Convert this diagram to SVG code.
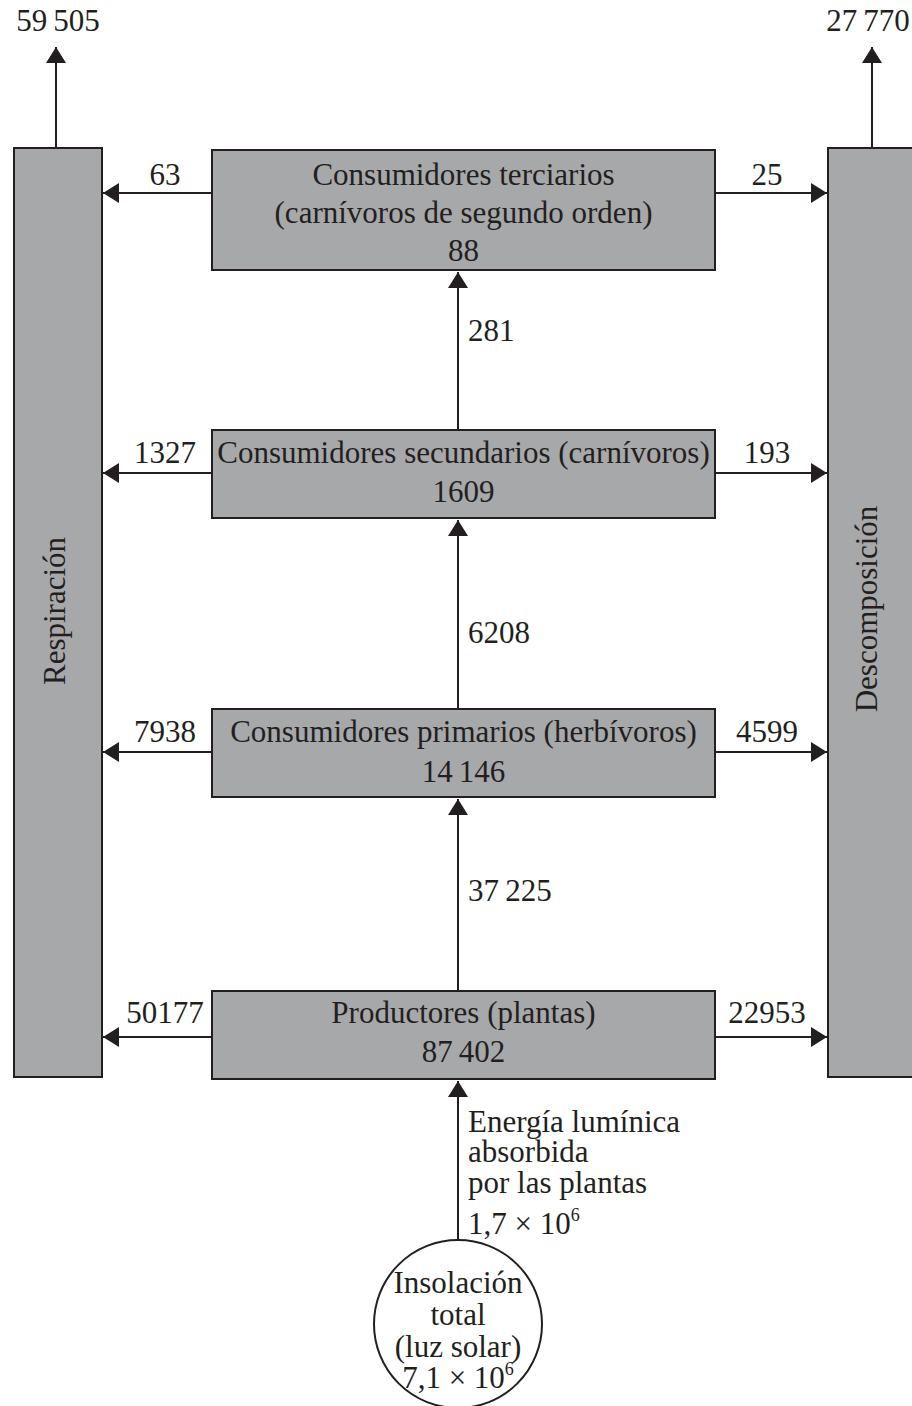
<svg xmlns="http://www.w3.org/2000/svg" width="912" height="1406" viewBox="0 0 912 1406">
<defs>
<style>
.box{fill:#a7a8aa;stroke:#231f20;stroke-width:2}
.ln{stroke:#231f20;stroke-width:2;fill:none}
text{font-family:"Liberation Serif","Times New Roman",serif;font-size:31px;fill:#231f20}
.c{text-anchor:middle}
</style>
<marker id="ah" markerWidth="16" markerHeight="20" refX="16" refY="10" orient="auto" markerUnits="userSpaceOnUse">
<path d="M0,0 L16,10 L0,20 z" fill="#231f20"/>
</marker>
</defs>
<rect width="912" height="1406" fill="#ffffff"/>
<g id="connectors">
<line class="ln" x1="56" y1="148" x2="56" y2="47" marker-end="url(#ah)"/>
<line class="ln" x1="872" y1="148" x2="872" y2="47" marker-end="url(#ah)"/>
<line class="ln" x1="212" y1="193" x2="103" y2="193" marker-end="url(#ah)"/>
<line class="ln" x1="212" y1="473" x2="103" y2="473" marker-end="url(#ah)"/>
<line class="ln" x1="212" y1="752" x2="103" y2="752" marker-end="url(#ah)"/>
<line class="ln" x1="212" y1="1037" x2="103" y2="1037" marker-end="url(#ah)"/>
<line class="ln" x1="715" y1="193" x2="827" y2="193" marker-end="url(#ah)"/>
<line class="ln" x1="715" y1="473" x2="827" y2="473" marker-end="url(#ah)"/>
<line class="ln" x1="715" y1="752" x2="827" y2="752" marker-end="url(#ah)"/>
<line class="ln" x1="715" y1="1037" x2="827" y2="1037" marker-end="url(#ah)"/>
<line class="ln" x1="458" y1="430" x2="458" y2="272" marker-end="url(#ah)"/>
<line class="ln" x1="458" y1="709" x2="458" y2="520" marker-end="url(#ah)"/>
<line class="ln" x1="458" y1="991" x2="458" y2="799" marker-end="url(#ah)"/>
<line class="ln" x1="458" y1="1240" x2="458" y2="1081" marker-end="url(#ah)"/>
<text class="c" x="58" y="31">59&#8201;505</text>
<text class="c" x="868" y="31">27&#8201;770</text>
<text class="c" x="165" y="185">63</text>
<text class="c" x="165" y="463">1327</text>
<text class="c" x="165" y="742">7938</text>
<text class="c" x="165" y="1023">50177</text>
<text class="c" x="767" y="185">25</text>
<text class="c" x="767" y="463">193</text>
<text class="c" x="767" y="742">4599</text>
<text class="c" x="767" y="1023">22953</text>
<text x="468" y="341">281</text>
<text x="468" y="643">6208</text>
<text x="468" y="901">37&#8201;225</text>
<text x="468" y="1132">Energía lumínica</text>
<text x="468" y="1162">absorbida</text>
<text x="468" y="1193">por las plantas</text>
<text x="468" y="1234">1,7 × 10<tspan font-size="18" dy="-13">6</tspan></text>
</g>
<g id="respiracion">
<rect class="box" x="14" y="148" width="88" height="929"/>
<text class="c" transform="translate(65,611) rotate(-90)">Respiración</text>
</g>
<g id="descomposicion">
<rect class="box" x="828" y="148" width="100" height="929"/>
<text class="c" transform="translate(877,609) rotate(-90)">Descomposición</text>
</g>
<g id="terciarios">
<rect class="box" x="212" y="150" width="503" height="120"/>
<text class="c" x="463.5" y="185">Consumidores terciarios</text>
<text class="c" x="463.5" y="223">(carnívoros de segundo orden)</text>
<text class="c" x="463.5" y="261">88</text>
</g>
<g id="secundarios">
<rect class="box" x="212" y="430" width="503" height="88"/>
<text class="c" x="463.5" y="463">Consumidores secundarios (carnívoros)</text>
<text class="c" x="463.5" y="502">1609</text>
</g>
<g id="primarios">
<rect class="box" x="212" y="709" width="503" height="88"/>
<text class="c" x="463.5" y="742">Consumidores primarios (herbívoros)</text>
<text class="c" x="463.5" y="782">14&#8201;146</text>
</g>
<g id="productores">
<rect class="box" x="212" y="991" width="503" height="88"/>
<text class="c" x="463.5" y="1023">Productores (plantas)</text>
<text class="c" x="463.5" y="1062">87&#8201;402</text>
</g>
<g id="insolacion">
<circle cx="458" cy="1324" r="84" fill="#ffffff" stroke="#231f20" stroke-width="2"/>
<text class="c" x="458" y="1293">Insolación</text>
<text class="c" x="458" y="1325">total</text>
<text class="c" x="458" y="1357">(luz solar)</text>
<text class="c" x="458" y="1388">7,1 × 10<tspan font-size="18" dy="-13">6</tspan></text>
</g>
</svg>
